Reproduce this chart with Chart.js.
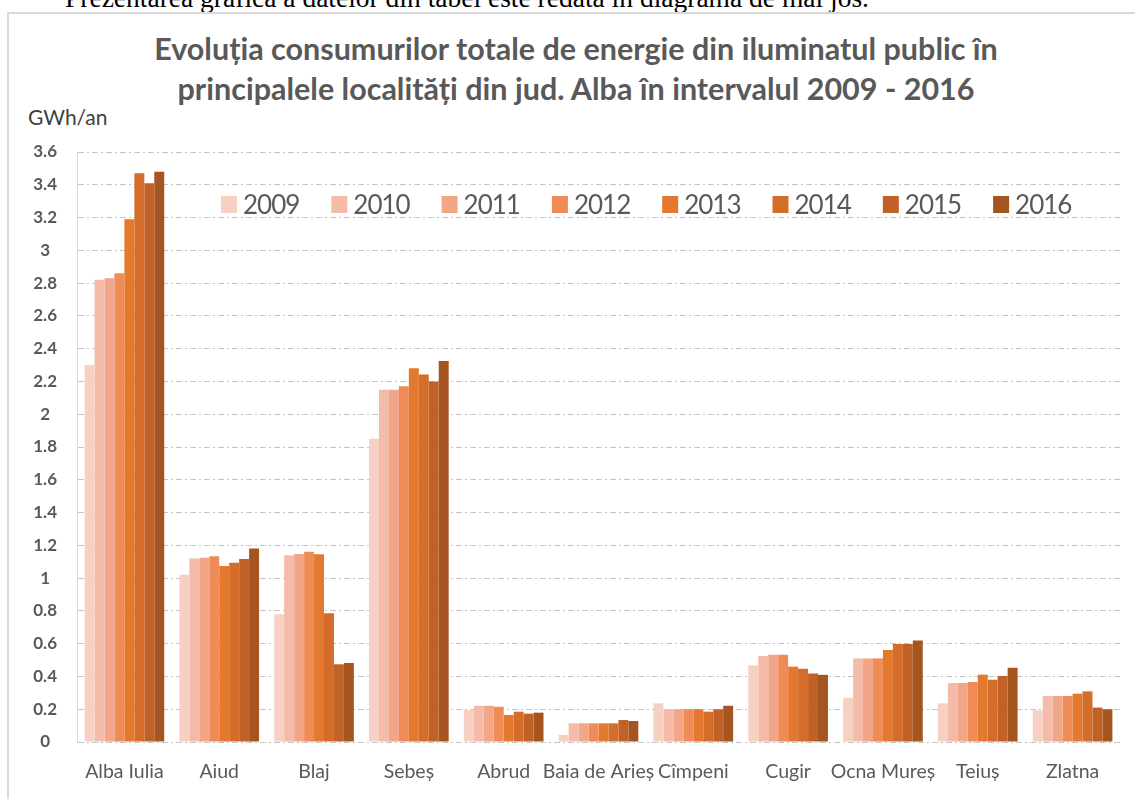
<!DOCTYPE html>
<html>
<head>
<meta charset="utf-8">
<script src="https://cdn.jsdelivr.net/npm/chart.js@4"></script>
<style>
  html, body { margin:0; padding:0; background:#fff; width:1135px; height:799px; overflow:hidden; }
  #wrap { position:relative; width:1135px; height:799px; }
  #toptext { position:absolute; left:65px; top:-16px; font:27.5px "Liberation Serif", serif; color:#000; white-space:nowrap; line-height:28px; }
  #frame { position:absolute; left:7px; top:12px; width:1140px; height:800px; border:2px solid #d9d9d9; box-sizing:border-box; }
  #title { position:absolute; left:0; width:1152px; top:28px; text-align:center; font:bold 30.5px Lato, sans-serif; color:#595959; line-height:40px; white-space:nowrap; }
  #unit { position:absolute; left:28px; top:104px; font:21px Lato, sans-serif; color:#404040; }
  canvas { position:absolute; left:0; top:0; }
</style>
</head>
<body>
<div id="wrap">
  <div id="toptext">Prezentarea grafică a datelor din tabel este redată în diagrama de mai jos.</div>
  <div id="frame"></div>
  <div id="title">Evoluția consumurilor totale de energie din iluminatul public în<br>principalele localități din jud. Alba în intervalul 2009 - 2016</div>
  <div id="unit">GWh/an</div>
  <canvas id="c" width="1135" height="799"></canvas>
</div>
<script>
const categories = ['Alba Iulia','Aiud','Blaj','Sebeș','Abrud','Baia de Arieș','Cîmpeni','Cugir','Ocna Mureș','Teiuș','Zlatna'];
const years = ['2009','2010','2011','2012','2013','2014','2015','2016'];
const v2009 = [2.30, 1.02, 0.78, 1.85, 0.195, 0.043, 0.236, 0.468, 0.27, 0.236, 0.193];
const v2010 = [2.82, 1.12, 1.14, 2.15, 0.221, 0.114, 0.20, 0.525, 0.51, 0.36, 0.281];
const v2011 = [2.83, 1.125, 1.147, 2.15, 0.221, 0.114, 0.20, 0.533, 0.51, 0.36, 0.281];
const v2012 = [2.86, 1.133, 1.161, 2.17, 0.215, 0.114, 0.20, 0.533, 0.51, 0.366, 0.281];
const v2013 = [3.19, 1.074, 1.145, 2.28, 0.165, 0.114, 0.20, 0.46, 0.561, 0.411, 0.295];
const v2014 = [3.47, 1.094, 0.785, 2.243, 0.185, 0.114, 0.185, 0.447, 0.598, 0.38, 0.309];
const v2015 = [3.41, 1.117, 0.474, 2.20, 0.173, 0.134, 0.20, 0.418, 0.598, 0.403, 0.21];
const v2016 = [3.48, 1.18, 0.482, 2.325, 0.179, 0.128, 0.221, 0.41, 0.62, 0.453, 0.20];
const seriesValues = [v2009, v2010, v2011, v2012, v2013, v2014, v2015, v2016];
const colors = ['#F8D0C3','#F4BCA8','#F1A688','#EF8B56','#E3782F','#D36D29','#C06227','#A5551F'];
const yMin = 0, yMax = 3.6, yStep = 0.2;

const legendPlugin = {
  id: 'inlineLegend',
  afterDatasetsDraw(chart) {
    const ctx = chart.ctx;
    ctx.save();
    ctx.font = '26px Lato, sans-serif';
    ctx.letterSpacing = '-1px';
    ctx.textBaseline = 'alphabetic';
    ctx.textAlign = 'left';
    chart.data.datasets.forEach((ds, i) => {
      const x = 221 + i * 110.3;
      ctx.fillStyle = ds.backgroundColor;
      ctx.fillRect(x, 196, 16, 17);
      ctx.fillStyle = '#595959';
      ctx.fillText(ds.label, x + 22, 214);
    });
    ctx.restore();
  }
};

Chart.defaults.font.family = 'Lato, sans-serif';
new Chart(document.getElementById('c'), {
  type: 'bar',
  data: {
    labels: categories,
    datasets: years.map((y, i) => ({
      label: y,
      data: seriesValues[i],
      backgroundColor: colors[i],
      borderWidth: 0,
      categoryPercentage: 0.84,
      barPercentage: 1.0
    }))
  },
  options: {
    responsive: false,
    animation: false,
    layout: { padding: { top: 152, left: 0, right: 15, bottom: 0 } },
    plugins: { legend: { display: false }, tooltip: { enabled: false }, title: { display: false } },
    scales: {
      x: {
        grid: { display: false, drawTicks: false },
        border: { display: false },
        ticks: { color: '#595959', font: { size: 19.5 }, padding: 18, maxRotation: 0, autoSkip: false },
        afterFit(s) { s.height = 57; }
      },
      y: {
        min: yMin, max: yMax,
        grid: { color: '#c4c4c4', lineWidth: 1, drawTicks: false },
        border: { display: true, color: '#d9d9d9', width: 1, dash: [6, 3, 2, 3] },
        ticks: {
          stepSize: yStep, color: '#595959', font: { size: 17, weight: 'bold' }, padding: 20, crossAlign: 'center',
          callback: (v) => String(Math.round(v * 10) / 10)
        },
        afterFit(s) { s.width = 77; }
      }
    }
  },
  plugins: [legendPlugin]
});
</script>
</body>
</html>
